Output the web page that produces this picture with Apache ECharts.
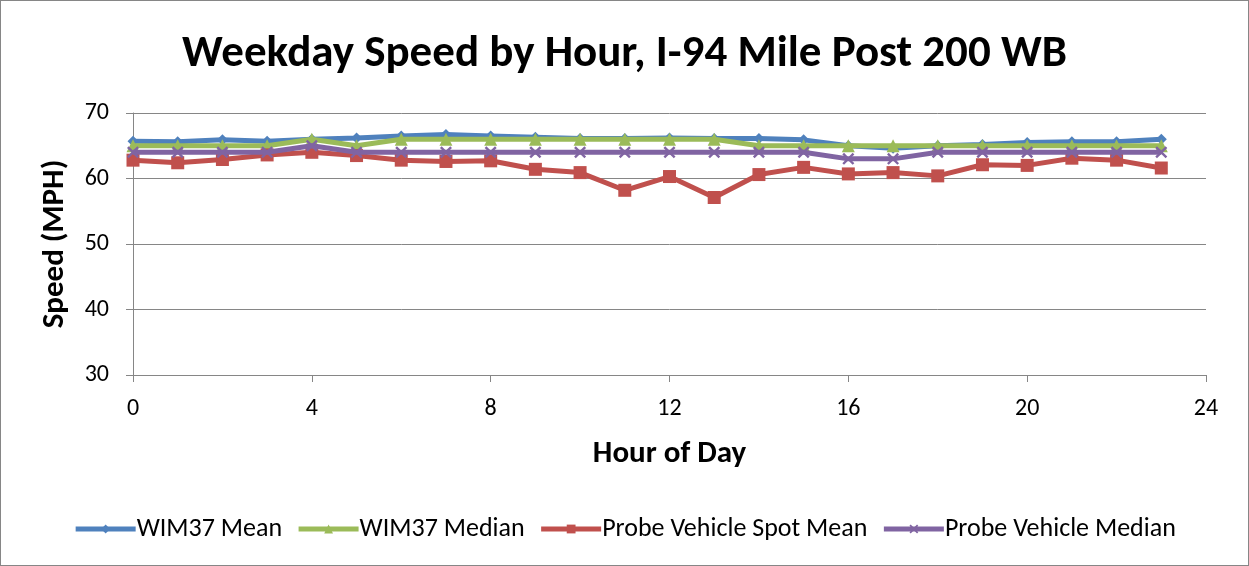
<!DOCTYPE html>
<html><head><meta charset="utf-8">
<script src="https://cdn.jsdelivr.net/npm/echarts@6/dist/echarts.min.js"></script>
<style>
html,body{margin:0;padding:0;background:#fff;}
#wrap{position:absolute;left:0;top:0;width:1247px;height:564px;border:1px solid #868686;}
#c{width:1247px;height:564px;}
</style></head><body>
<div id="wrap"><div id="c"></div></div>
<script>
const hours = [0,1,2,3,4,5,6,7,8,9,10,11,12,13,14,15,16,17,18,19,20,21,22,23];
const wimMean = [65.7,65.6,65.9,65.7,66.0,66.2,66.5,66.7,66.5,66.3,66.1,66.1,66.2,66.1,66.1,65.9,65.0,64.6,65.0,65.2,65.5,65.6,65.6,66.0];
const wimMedian = [65,65,65,65,66,65,66,66,66,66,66,66,66,66,65,65,65,65,65,65,65,65,65,65];
const probeMean = [62.8,62.4,62.9,63.6,64.0,63.5,62.8,62.6,62.7,61.4,60.9,58.2,60.3,57.1,60.6,61.7,60.7,60.9,60.4,62.1,62.0,63.1,62.8,61.6];
const probeMedian = [64,64,64,64,65,64,64,64,64,64,64,64,64,64,64,64,63,63,64,64,64,64,64,64];
const seriesNames = ['WIM37 Mean','WIM37 Median','Probe Vehicle Spot Mean','Probe Vehicle Median'];

const crossPath = 'path://M0,1.4L1.4,0L5,3.6L8.6,0L10,1.4L6.4,5L10,8.6L8.6,10L5,6.4L1.4,10L0,8.6L3.6,5Z';
const colors = ['#4F81BD','#9BBB59','#C0504D','#8064A2'];
const symbols = ['diamond','triangle','rect',crossPath];
const symSizes = [11,13,13,12];
const dataSets = [wimMean,wimMedian,probeMean,probeMedian];

const chart = echarts.init(document.getElementById('c'));
const font = 'Carlito, "Open Sans", "Liberation Sans", sans-serif';
chart.setOption({
  animation:false,
  title:{text:'Weekday Speed by Hour, I-94 Mile Post 200 WB',left:'center',top:26,
    textStyle:{fontFamily:font,fontWeight:'bold',fontSize:45,color:'#000'}},
  grid:{left:132,right:42,top:112,bottom:190,containLabel:false},
  xAxis:{type:'value',min:0,max:24,interval:4,
    name:'Hour of Day',nameLocation:'middle',nameGap:64,
    nameTextStyle:{fontFamily:font,fontWeight:'bold',fontSize:31,color:'#000'},
    axisLine:{lineStyle:{color:'#868686',width:1}},
    axisTick:{show:true,length:7,lineStyle:{color:'#868686'}},
    axisLabel:{fontFamily:font,fontSize:24,color:'#000',margin:22},
    splitLine:{show:false}},
  yAxis:{type:'value',min:30,max:70,interval:10,
    name:'Speed (MPH)',nameLocation:'middle',nameGap:62,nameRotate:90,
    nameTextStyle:{fontFamily:font,fontWeight:'bold',fontSize:31,color:'#000'},
    axisLine:{show:true,lineStyle:{color:'#868686',width:1}},
    axisTick:{show:true,length:7,lineStyle:{color:'#868686'}},
    axisLabel:{fontFamily:font,fontSize:24,color:'#000',margin:24},
    splitLine:{show:true,lineStyle:{color:'#868686',width:1}}},
  legend:{bottom:18,left:'center',itemWidth:60,itemHeight:11,itemGap:14,
    lineStyle:{width:5},
    textStyle:{fontFamily:font,fontSize:26,color:'#000',padding:[0,0,0,-4]},
    data:seriesNames},
  series: seriesNames.map((n,i)=>({
    name:n,type:'line',
    data:hours.map((h,j)=>[h,dataSets[i][j]]),
    symbol:symbols[i],symbolSize:symSizes[i],showSymbol:true,
    lineStyle:{color:colors[i],width:5},
    itemStyle:{color:colors[i]},
    z:2+i
  }))
});
</script>
</body></html>
